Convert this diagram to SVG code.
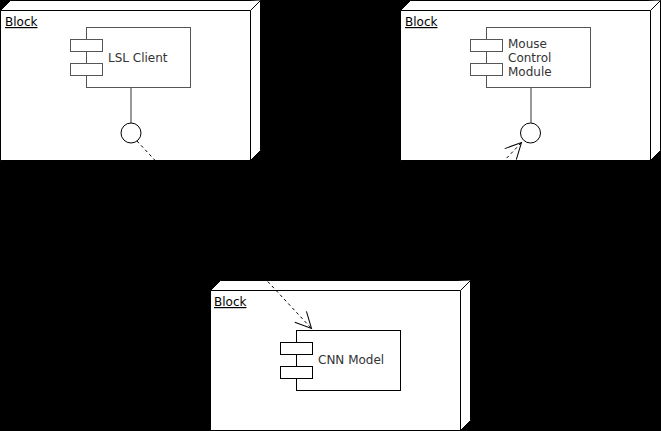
<svg xmlns="http://www.w3.org/2000/svg" width="661" height="431" viewBox="0 0 661 431">
<defs>
<style>
.blk{fill:#fff;stroke:#000;stroke-width:1}
.lbl{font-family:"DejaVu Sans",Verdana,sans-serif;font-size:12px;fill:#000;text-decoration:underline}
.txt{font-family:"DejaVu Sans",Verdana,sans-serif;font-size:12px;fill:#333}
.cmp{fill:#fff;stroke:#555;stroke-width:1}
.cmpk{fill:#fff;stroke:#000;stroke-width:1}
.dash{fill:none;stroke:#000;stroke-width:1;stroke-dasharray:3 3}
.solid{fill:none;stroke:#333;stroke-width:1}
</style>
<marker id="open" markerUnits="userSpaceOnUse" markerWidth="20" markerHeight="20" viewBox="-18 -10 20 20" refX="0" refY="0" orient="auto">
<path d="M-16,-8 L0,0 L-16,8" fill="none" stroke="#000" stroke-width="1"/>
</marker>
</defs>
<rect x="0" y="0" width="661" height="431" fill="#000"/>
<g id="block-lsl">
<path class="blk" d="M0.5,10.5 L10.5,0.5 L260.5,0.5 L260.5,150.5 L250.5,160.5 L0.5,160.5 Z"/>
<path class="blk" fill="none" d="M0.5,10.5 L250.5,10.5 L260.5,0.5 M250.5,10.5 L250.5,160.5"/>
<text class="lbl" x="5" y="26">Block</text>
</g>
<g id="lsl-client">
<rect class="cmp" x="86.5" y="27.5" width="104" height="60"/>
<rect class="cmp" x="70.5" y="39.5" width="32" height="12"/>
<rect class="cmp" x="70.5" y="63.5" width="32" height="12"/>
<text class="txt" x="108" y="62">LSL Client</text>
</g>
<g id="lsl-interface">
<line class="solid" x1="131" y1="88" x2="131" y2="123"/>
<circle cx="131" cy="133" r="10" fill="#fff" stroke="#000"/>
</g>
<g id="block-mouse">
<path class="blk" d="M400.5,10.5 L410.5,0.5 L660.5,0.5 L660.5,150.5 L650.5,160.5 L400.5,160.5 Z"/>
<path class="blk" fill="none" d="M400.5,10.5 L650.5,10.5 L660.5,0.5 M650.5,10.5 L650.5,160.5"/>
<text class="lbl" x="405" y="26">Block</text>
</g>
<g id="mouse-control">
<rect class="cmp" x="486.5" y="27.5" width="104" height="60"/>
<rect class="cmp" x="470.5" y="39.5" width="32" height="12"/>
<rect class="cmp" x="470.5" y="63.5" width="32" height="12"/>
<text class="txt" x="508" y="48">Mouse</text>
<text class="txt" x="508" y="62">Control</text>
<text class="txt" x="508" y="76">Module</text>
</g>
<g id="mouse-interface">
<line class="solid" x1="531" y1="88" x2="531" y2="123"/>
<circle cx="530.5" cy="133" r="10" fill="#fff" stroke="#000"/>
</g>
<g id="block-cnn">
<path class="blk" d="M210.5,290.5 L220.5,280.5 L470.5,280.5 L470.5,420.5 L460.5,430.5 L210.5,430.5 Z"/>
<path class="blk" fill="none" d="M210.5,290.5 L460.5,290.5 L470.5,280.5 M460.5,290.5 L460.5,430.5"/>
<text class="lbl" x="214" y="306">Block</text>
</g>
<g id="cnn-model">
<rect class="cmpk" x="296.5" y="330.5" width="104" height="60"/>
<rect class="cmpk" x="280.5" y="342.5" width="32" height="12"/>
<rect class="cmpk" x="280.5" y="366.5" width="32" height="12"/>
<text class="txt" x="318" y="364">CNN Model</text>
</g>
<g id="connectors">
<path class="dash" d="M137,141 L311.5,328.5" marker-end="url(#open)"/>
<path class="dash" d="M391,280 L521.5,142.5" marker-end="url(#open)"/>
</g>
</svg>
